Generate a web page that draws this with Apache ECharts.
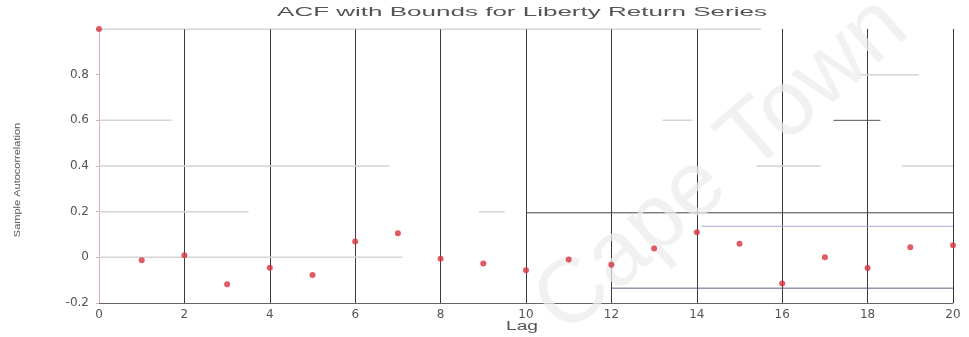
<!DOCTYPE html>
<html><head><meta charset="utf-8">
<script src="https://cdn.jsdelivr.net/npm/echarts@6/dist/echarts.min.js"></script>
<style>html,body{margin:0;padding:0;background:#fff}#c{width:969px;height:337px}</style>
</head><body><div id="c"></div>
<script>
// ---- data ----
const lags = [0,1,2,3,4,5,6,7,8,9,10,11,12,13,14,15,16,17,18,19,20];
const acf  = [1.0,-0.013,0.009,-0.118,-0.046,-0.077,0.069,0.105,-0.006,-0.027,-0.057,-0.010,-0.033,0.039,0.110,0.059,-0.115,0.000,-0.047,0.044,0.053];
const xTicks = [0,2,4,6,8,10,12,14,16,18,20];
const yTicks = [-0.2,0,0.2,0.4,0.6,0.8];
// bound lines (lag, level)
const boundDark  = [[10,0.195],[20,0.195]];
const boundUpper = [[14.1,0.136],[20,0.136]];
const boundLower = [[12,-0.135],[20,-0.135]];
// faint remnants of the horizontal grid: [lagStart, lagEnd, level]
const gridFaint = [[0,1.7,0.6],[0,6.8,0.4],[0,3.5,0.2],[0,7.1,0],[8.9,9.5,0.2],[15.4,16.9,0.4],[18.8,20,0.4],[17.8,19.2,0.8],[13.2,13.9,0.6]];
const gridDark = [[17.2,18.3,0.6]];
const topBorder = [[0,1],[15.5,1]];

const title = 'ACF with Bounds for Liberty Return Series';
const xName = 'Lag';
const yName = 'Sample Autocorrelation';
const watermark = 'Cape Town';

const seg = (arr) => {
  const out = [];
  arr.forEach(s => { out.push([s[0], s[2]], [s[1], s[2]], null); });
  return out;
};

const chart = echarts.init(document.getElementById('c'));
const lineBase = {type:'line', symbol:'none', silent:true, connectNulls:false, animation:false, z:2};
chart.setOption({
  animation:false,
  backgroundColor:'#fff',
  grid:{left:99, right:16, top:29, bottom:34},
  xAxis:{
    type:'value', min:0, max:20, interval:2,
    axisLine:{onZero:false, lineStyle:{color:'#666', width:1}},
    axisTick:{show:false},
    axisLabel:{color:'#555', fontFamily:'DejaVu Sans', fontSize:12, margin:6,
      formatter: v => xTicks.includes(v) ? String(v) : ''},
    splitLine:{show:true, lineStyle:{color:'#3a3a3a', width:1}}
  },
  yAxis:{
    type:'value', min:-0.2, max:1, interval:0.2,
    axisLine:{show:true, onZero:false, lineStyle:{color:'#eeaaaa', width:1}},
    axisTick:{show:true, length:3, lineStyle:{color:'#bbb'}},
    axisLabel:{color:'#555', fontFamily:'DejaVu Sans', fontSize:12, margin:10,
      formatter: v => { const r = Math.round(v*10)/10; return yTicks.some(t => Math.abs(t-r)<1e-9) ? (r===0?'0':r.toFixed(1)) : ''; }},
    splitLine:{show:false}
  },
  series:[
    Object.assign({}, lineBase, {data:seg(gridFaint), lineStyle:{color:'#d4d4d4', width:1.5}}),
    Object.assign({}, lineBase, {data:seg(gridDark), lineStyle:{color:'#555', width:1}}),
    Object.assign({}, lineBase, {data:topBorder, lineStyle:{color:'#aaa', width:1}}),
    Object.assign({}, lineBase, {data:boundDark, lineStyle:{color:'#444', width:1}}),
    Object.assign({}, lineBase, {data:boundUpper, lineStyle:{color:'#a6acd0', width:1}}),
    Object.assign({}, lineBase, {data:boundLower, lineStyle:{color:'#5a5f80', width:1}}),
    {type:'scatter', data: lags.map((l,i)=>[l, acf[i]]), symbol:'circle', symbolSize:6,
     itemStyle:{color:'#d9323c'}, z:10, silent:true}
  ],
  graphic:[
    {type:'text', x:522, y:12, scaleX:2.0, z:50,
     style:{text:title, fontFamily:'Liberation Sans', fontSize:13, fill:'#555', align:'center', verticalAlign:'middle'}},
    {type:'text', x:522, y:327, scaleX:1.6, z:50,
     style:{text:xName, fontFamily:'Liberation Sans', fontSize:12, fill:'#555', align:'center', verticalAlign:'middle'}},
    {type:'text', x:18, y:180, rotation:Math.PI/2, scaleY:0.8, z:50,
     style:{text:yName, fontFamily:'Liberation Sans', fontSize:11, fill:'#555', align:'center', verticalAlign:'middle'}},
    {type:'text', x:722, y:166, rotation:0.72, z:4,
     style:{text:watermark, fontFamily:'Liberation Sans', fontSize:92, fill:'rgba(236,236,236,0.72)',
            align:'center', verticalAlign:'middle'}}
  ]
});
</script></body></html>
